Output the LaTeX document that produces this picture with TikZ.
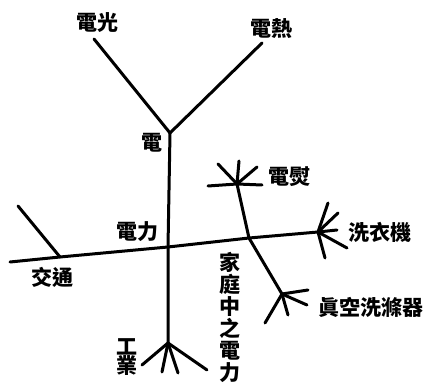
\documentclass[tikz,border=0pt]{standalone}
\usepackage{fontspec}
\newfontfamily\cjk{Noto Sans CJK TC}
\usetikzlibrary{positioning}
\newcommand{\wirew}{1.5pt}
\newcommand{\lblsize}{10.5}
\tikzset{
    wire/.style = {line width = \wirew, line cap = round},
    lbl/.style = {font = \cjk\bfseries\fontsize{\lblsize}{11}\selectfont, inner sep = 1pt, align = center},
}

\begin{document}
\begin{tikzpicture}[x = 0.5pt, y = -0.5pt]
                        \useasboundingbox (0,0) rectangle (427,383);
                        %\draw[help lines] (0,0) grid[step=20] (427,383);
                        % labels
                        \node[lbl] (guang) at (97,23) {電光};
                        \node[lbl] (re) at (271,29) {電熱};
                        \node[lbl] (dian) at (152,143) {電};
                        \node[lbl] (yun) at (289,177) {電熨};
                        \node[lbl] (xiyi) at (380,232) {洗衣機};
                        \node[lbl] (xichen) at (371,307) {眞空洗滌器};
                        \node[lbl] (dianli) at (137,232) {電力};
                        \node[lbl] (jiaotong) at (52,277) {交通};
                        \node[lbl, font = \cjk\bfseries\fontsize{\lblsize}{9.5}\selectfont] (gongye) at (127,357) {工\\業};
                        \node[lbl] (jiating) at (230,317) {家\\庭\\中\\之\\電\\力};
                        % junctions
                        \coordinate (top) at (170,133);
                        \coordinate (mid) at (168,247);
                        \coordinate (home) at (249,238);
                        \coordinate (traffic) at (60,257);
                        \coordinate (left) at (10,262);
                        \coordinate (wash) at (318,232);
                        \coordinate (iron) at (237,184);
                        \coordinate (vac) at (282,294);
                        \coordinate (ind) at (168,343);
                        \coordinate (guangend) at (94,39);
                        \coordinate (reend) at (262,43);
                        \coordinate (trafficend) at (18,206);
                        % trunk
                        \draw[wire] (guangend) -- (top) -- (reend);
                        \draw[wire] (top) -- (mid) -- (ind);
                        \draw[wire] (left) -- (traffic) -- (mid) -- (home) -- (wash);
                        \draw[wire] (traffic) -- (trafficend);
                        \draw[wire] (iron) -- (home) -- (vac);
                        % fans
                        \foreach \dx/\dy in {10/-29, 20/-19, 19/-2, 29/16, 7/26}
                            \draw[wire] (wash) -- ++(\dx,\dy);
                        \foreach \dx/\dy in {-29/2, 25/1, -19/-20, 2/-23, 20/-17}
                            \draw[wire] (iron) -- ++(\dx,\dy);
                        \foreach \dx/\dy in {26/-4, 25/11, 6/21, -17/29}
                            \draw[wire] (vac) -- ++(\dx,\dy);
                        \foreach \dx/\dy in {-26/22, -6/29, 10/30, 39/27}
                            \draw[wire] (ind) -- ++(\dx,\dy);
\end{tikzpicture}
\end{document}
